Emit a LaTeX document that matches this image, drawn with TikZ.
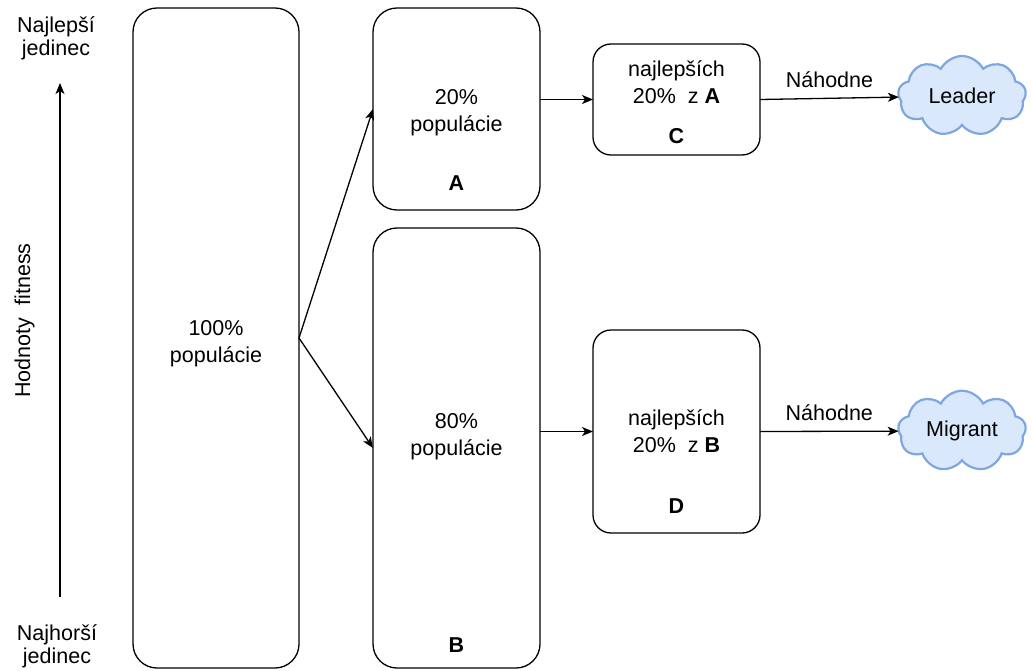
\documentclass[tikz,border=0pt]{standalone}
\usepackage{fontspec}
\setmainfont{Liberation Sans}
\usetikzlibrary{arrows.meta,shapes.symbols}
\definecolor{cloudfill}{HTML}{DAE8FC}
\definecolor{cloudline}{HTML}{7EA6E0}

\begin{document}
\begin{tikzpicture}[x=1pt,y=-1pt,
  every node/.style={inner sep=0pt, outer sep=0pt},
  txt/.style={align=center, font=\fontsize{21.5}{27}\selectfont},
  lbl/.style={font=\fontsize{21.5}{27}\selectfont\bfseries},
  bigbox/.style={draw, line width=1.3pt, rounded corners=24pt},
  smallbox/.style={draw, line width=1.3pt, rounded corners=18pt},
  arr/.style={line width=1.3pt, -{Stealth[length=11pt,width=9pt,inset=3pt]}},
  cloudnode/.style={cloud, cloud puffs=9, cloud puff arc=125, aspect=1.6,
    draw=cloudline, fill=cloudfill, line width=2.2pt,
    minimum width=128pt, minimum height=80pt,
    font=\fontsize{21.5}{27}\selectfont}
]
\useasboundingbox (0,0) rectangle (1033,671);

% population boxes
\node[bigbox, minimum width=166pt, minimum height=660pt] (all) at (216,338) {};
\node[bigbox, minimum width=167pt, minimum height=202pt] (A) at (456.5,109) {};
\node[bigbox, minimum width=167pt, minimum height=440pt] (B) at (456.5,448) {};
\node[smallbox, minimum width=167pt, minimum height=111pt] (C) at (676.5,99.5) {};
\node[smallbox, minimum width=167pt, minimum height=203pt] (D) at (676.5,431.5) {};

% box texts
\node[txt] (tall) at (216,344) {100\%\\populácie};
\node[txt] (tA) at (456.5,113) {20\%\\populácie};
\node[txt] (tB) at (456.5,436.5) {80\%\\populácie};
\node[txt] (tC) at (676.5,82) {najlepších\\20\%\ \ z \textbf{A}};
\node[txt] (tD) at (676.5,431) {najlepších\\20\%\ \ z \textbf{B}};

\node[lbl] (lA) at (456.5,183.5) {A};
\node[lbl] (lB) at (456.5,645) {B};
\node[lbl] (lC) at (676.5,136.5) {C};
\node[lbl] (lD) at (676.5,506.5) {D};

% clouds
\node[cloudnode] (leader) at (962,96) {Leader};
\node[cloudnode] (migrant) at (962,431) {Migrant};

% connectors
\draw[arr] (all.east) -- (A.west);
\draw[arr] (all.east) -- (B.west);
\draw[arr] (A.east |- C.west) -- (C.west);
\draw[arr] (B.east |- D.west) -- (D.west);
\draw[arr] (C.east) -- node[above=9pt, txt, inner sep=2pt] (n1) {Náhodne} (leader);
\draw[arr] (D.east) -- node[above=9pt, txt, inner sep=2pt] (n2) {Náhodne} (migrant);

% fitness axis
\coordinate (axbot) at (60,597);
\coordinate (axtop) at (60,83);
\draw[arr] (axbot) -- (axtop);
\node[align=center, font=\fontsize{21.5}{23}\selectfont] (best) at (56,38) {Najlepší\\jedinec};
\node[align=center, font=\fontsize{21.5}{23}\selectfont] (worst) at (57,646) {Najhorší\\jedinec};
\node[font=\fontsize{21.5}{27}\selectfont, rotate=90] (axis) at (24.5,320.5) {Hodnoty\ \ fitness};
\end{tikzpicture}
\end{document}
